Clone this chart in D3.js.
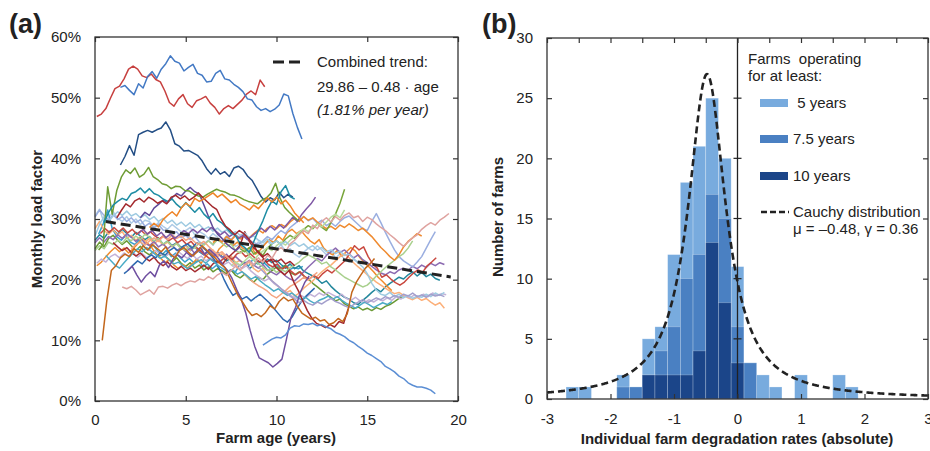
<!DOCTYPE html>
<html>
<head>
<meta charset="utf-8">
<script src="https://cdn.jsdelivr.net/npm/d3@7"></script>
<style>
  body { margin: 0; background: #fff; }
  svg { font-family: "Liberation Sans", Arial, Helvetica, sans-serif; }
</style>
</head>
<body>
<svg id="chart" width="930" height="451"></svg>
<script>
// ---------- panel (a): monthly load factor (%) per farm, one value every STEP years ----------
const STEP = 0.25;

const farmRed = [46.9, 47.3, 48.2, 49.9, 51.5, 51.9, 53.1, 54.7, 55.2, 54.7, 53.6, 53.3, 53.9, 53.0, 52.6, 51.1, 49.2, 48.6, 49.8, 50.5, 49.0, 48.4, 49.5, 49.8, 50.2, 49.1, 48.4, 47.3, 48.2, 48.7, 48.2, 48.9, 49.6, 50.6, 51.1, 50.5, 52.9, 51.8];
const farmBlueTop = [51.7, 52.0, 51.2, 50.5, 52.3, 51.6, 53.5, 54.3, 53.2, 54.7, 55.6, 56.9, 56.0, 55.7, 54.4, 55.0, 55.5, 54.0, 53.7, 52.6, 52.7, 54.0, 54.5, 53.1, 52.9, 52.2, 51.7, 51.0, 49.8, 49.6, 48.5, 47.9, 48.2, 47.7, 48.1, 48.8, 50.6, 50.3, 47.4, 45.1, 43.2];
const farmNavy = [38.9, 40.3, 42.1, 40.5, 43.9, 44.3, 44.6, 44.3, 44.7, 45.0, 46.0, 44.7, 42.4, 42.0, 41.2, 41.3, 40.9, 40.5, 39.6, 38.3, 37.4, 38.3, 37.4, 37.8, 37.0, 38.4, 38.7, 38.2, 37.1, 36.4, 35.1, 33.7, 32.8, 33.5, 33.1, 34.4, 33.5, 34.1, 33.6];
const farmOliveHigh = [24.9, 25.8, 35.3, 30.8, 34.7, 36.9, 38.1, 37.5, 38.4, 36.9, 37.4, 38.5, 37.0, 36.5, 35.8, 35.6, 35.0, 35.4, 35.3, 34.7, 34.6, 34.1, 33.8, 33.6, 34.1, 34.5, 34.9, 34.6, 34.4, 34.0, 33.9, 33.6, 33.2, 32.9, 32.7, 32.5, 33.1, 33.5, 34.3, 35.9, 33.4, 31.9, 31.1, 30.4, 29.7];
const farmTealHigh = [29.4, 31.1, 32.3, 32.9, 33.4, 33.1, 34.2, 34.5, 35.1, 34.3, 35.0, 34.2, 33.9, 33.3, 32.9, 33.3, 32.4, 31.8, 32.7, 31.9, 31.1, 31.9, 30.8, 30.1, 30.9, 29.8, 29.3, 28.5, 27.7, 27.2, 25.9, 25.3, 24.5, 26.3, 28.1, 29.7, 31.6, 33.0, 32.4, 34.5, 35.5, 33.7, 33.3];
const farmDarkRed = [30.2, 31.4, 32.5, 32.0, 33.0, 33.4, 32.8, 33.6, 33.2, 32.6, 33.0, 32.5, 33.6, 33.9, 33.3, 33.8, 33.1, 33.6, 34.3, 33.5, 32.8, 32.1, 31.6, 30.0, 28.8, 28.2, 27.4, 28.1, 27.6, 26.8, 25.9, 24.6, 23.8, 22.9, 23.4, 22.1, 21.4, 20.8, 21.5, 19.6, 18.2, 16.5, 14.9, 13.6, 12.8, 12.5, 12.1, 12.6, 12.2, 13.1, 12.8, 15.2];
const farmOrangeHigh = [28.6, 29.3, 28.7, 29.9, 30.6, 31.2, 30.5, 31.8, 32.6, 32.1, 33.4, 32.9, 33.3, 33.8, 34.3, 33.6, 34.1, 33.4, 32.7, 33.2, 32.4, 32.0, 31.5, 32.3, 31.7, 32.6, 33.5, 32.8, 33.6, 32.5, 33.1, 32.2, 31.0, 30.2, 29.4];
const farmPurpleDip = [21.5, 22.2, 20.8, 19.6, 20.6, 21.3, 20.5, 22.4, 23.1, 22.0, 23.4, 24.1, 23.6, 24.5, 23.8, 24.6, 25.3, 24.2, 25.0, 24.3, 23.5, 22.4, 21.5, 20.2, 18.4, 16.8, 14.6, 11.6, 9.0, 7.1, 6.7, 6.3, 5.6, 6.2, 6.9, 10.2, 13.8, 15.4, 17.8, 19.5, 20.6];
const farmBlueDecline = [9.2, 9.7, 10.2, 10.5, 10.4, 10.9, 12.0, 12.4, 12.3, 12.7, 12.6, 12.8, 12.4, 12.6, 12.2, 11.9, 11.3, 11.0, 10.6, 10.0, 9.6, 9.0, 8.5, 7.9, 7.5, 7.0, 6.5, 5.7, 5.3, 4.8, 4.1, 3.7, 3.0, 2.6, 2.3, 2.3, 2.1, 1.8, 1.2];
const farmBrown = [10.0, 16.5, 21.5, 22.3, 23.6, 24.2, 23.8, 25.1, 24.5, 25.6, 24.9, 25.8, 25.2, 24.6, 25.4, 24.2, 23.6, 24.8, 25.3, 24.5, 23.9, 24.7, 25.6, 24.9, 24.1, 23.5, 22.6, 22.0, 20.4, 18.8, 17.3, 16.2, 15.0, 14.1, 14.4, 13.9, 14.6, 15.7, 15.2, 16.4, 17.1, 16.5, 16.8, 15.6, 14.5, 14.0, 13.5, 13.8, 13.2, 13.4, 12.6, 12.9, 13.6, 13.1, 14.4, 17.9, 19.6, 20.8, 21.9, 22.6, 23.5];
const farmPink = [18.8, 18.5, 18.9, 18.3, 17.5, 17.9, 18.3, 17.6, 18.8, 18.9, 18.6, 19.1, 19.4, 19.0, 19.5, 19.8, 19.6, 20.1, 19.9, 20.5, 20.1, 20.8, 21.2, 20.7, 21.5, 22.2, 21.6, 22.5, 23.1, 22.4, 23.6, 22.8, 24.0, 23.5, 24.8, 25.3, 24.6, 25.9, 26.5, 27.4, 28.1, 27.6, 29.0, 28.4, 29.6, 30.2, 29.5, 30.4, 29.8, 30.6, 31.0, 30.2, 30.5, 29.6, 30.3, 29.9, 29.2, 28.6, 28.1, 27.4, 26.8, 26.1, 25.5, 26.2, 26.9, 27.4, 28.3, 28.9, 29.4, 29.0, 29.8, 30.3, 30.9];

const farmLightBlue = [30.5, 31.6, 29.4, 30.2, 31.2, 30.1, 29.6, 30.4, 29.3, 30.0, 29.1, 29.8, 29.6, 28.7, 29.4, 28.8, 28.3, 29.1, 28.5, 27.9, 28.1, 28.6, 27.4, 27.9, 27.5, 26.8, 27.6, 27.0, 26.3, 26.9, 26.1, 25.5, 25.9, 25.2, 24.6, 25.3, 26.2, 25.7, 26.4, 25.5, 25.0, 25.8, 24.6, 25.1, 24.2, 23.7, 24.5, 25.2, 24.8, 25.6, 24.9, 24.1, 24.7, 23.6, 24.2, 23.4, 22.9, 23.3, 22.8];
const farmCyan = [27.5, 29.2, 31.5, 28.4, 27.1, 26.5, 27.3, 26.2, 25.8, 26.6, 25.4, 24.9, 25.7, 24.8, 24.1, 24.9, 23.8, 24.4, 23.6, 22.9, 23.5, 22.8, 23.2, 22.1, 22.6, 21.8, 22.4, 21.3, 20.9, 21.6, 21.1, 22.3, 22.9, 22.2, 23.4, 22.6, 23.1, 22.4, 21.7, 22.5, 21.9, 22.3, 21.6, 22.0, 21.8, 22.2];
const farmTeal = [26.5, 27.4, 26.8, 27.9, 28.2, 27.5, 28.3, 27.6, 27.0, 27.8, 27.2, 26.6, 27.1, 26.3, 26.9, 25.8, 26.4, 25.6, 26.1, 25.3, 25.7, 24.8, 25.4, 24.6, 24.1, 24.8, 23.9, 24.5, 23.8, 23.1, 23.6, 22.7, 22.3, 22.9, 21.8, 22.4, 23.1, 22.6, 23.4, 22.8, 23.2, 22.5, 21.9, 22.6, 21.8, 22.3, 21.4, 21.0, 20.6, 20.1, 19.4, 19.8, 18.9, 18.2, 17.6, 17.1, 16.8, 16.2, 15.9, 16.6, 17.2, 17.9, 18.5, 18.0, 18.8, 19.4, 19.9, 20.4, 20.1, 20.8, 21.3, 20.6, 21.2, 20.5, 20.9, 20.2, 19.9];
const farmOliveLow = [25.1, 26.2, 25.4, 26.8, 27.3, 26.5, 25.8, 26.4, 25.6, 24.8, 25.5, 24.6, 24.1, 24.7, 23.8, 24.3, 23.5, 22.9, 23.6, 22.7, 22.2, 22.8, 21.9, 22.4, 21.6, 22.1, 21.3, 21.8, 21.5, 20.9, 21.6, 20.7, 20.3, 20.9, 20.1, 19.6, 20.4, 20.0, 20.9, 21.5, 22.1, 21.6, 22.4, 21.2, 20.8, 21.3, 20.6, 20.1, 19.4, 18.8, 18.2, 17.6, 17.1, 16.5, 16.8, 16.0, 15.6, 15.2, 15.5, 15.0, 15.3, 14.9, 15.4, 15.1, 15.6, 15.9, 16.4, 16.9, 17.2];
const farmOrange = [22.3, 22.9, 23.8, 24.6, 25.3, 24.6, 25.2, 24.4, 25.1, 25.9, 26.8, 26.1, 25.4, 24.3, 23.6, 22.8, 23.3, 22.4, 21.8, 22.5, 21.9, 22.6, 23.4, 22.7, 23.9, 24.6, 23.8, 25.1, 25.8, 26.4, 25.6, 26.2, 25.3, 24.8, 25.5, 24.2, 24.9, 25.8, 26.6, 26.1, 27.2, 26.5, 27.8, 28.3, 27.6, 28.1, 27.2, 26.4, 25.9, 26.6, 25.2, 24.5, 24.1, 24.8, 23.9, 24.6, 25.3, 24.7, 23.6, 22.8, 22.1, 21.3, 20.4, 19.7, 18.9, 18.2];
const farmLightOrange = [28.4, 29.6, 28.1, 27.5, 28.2, 27.4, 27.9, 26.8, 27.3, 26.5, 27.1, 26.2, 26.8, 25.9, 26.5, 25.7, 26.2, 25.4, 26.0, 25.1, 25.6, 24.8, 25.5, 24.7, 25.2, 24.3, 24.9, 23.8, 24.3, 23.5, 23.9, 22.8, 23.2, 22.4, 22.9, 21.8, 21.3, 21.9, 20.6, 19.8, 19.1, 18.5, 17.8, 18.2, 17.3, 17.8, 18.6, 19.2, 19.8, 20.6, 21.3, 21.9, 22.4, 23.1, 23.8, 24.3, 23.6, 22.8, 22.1, 21.5, 20.8, 20.2, 19.6, 19.1, 18.6, 18.1, 17.7, 17.9, 17.4, 17.0, 16.7, 17.1, 16.6, 16.9, 16.3, 15.8, 16.2, 15.3];
const farmLavender = [22.7, 23.4, 22.9, 23.8, 24.2, 23.6, 24.4, 23.9, 24.5, 23.7, 24.3, 23.6, 24.1, 24.8, 24.2, 23.7, 24.4, 23.8, 24.6, 24.0, 23.5, 24.2, 23.4, 23.9, 23.1, 23.6, 22.8, 23.3, 22.5, 22.9, 22.2, 22.6, 21.8, 22.3, 21.4, 20.8, 20.3, 19.8, 20.2, 19.4, 18.9, 18.3, 17.8, 17.3, 16.9, 17.4, 17.0, 17.6, 17.2, 17.8, 17.4, 17.9, 17.5, 17.1, 17.6, 16.9, 16.6, 17.1, 16.5, 16.2, 16.7, 16.3, 16.8, 16.5, 17.0, 16.6, 17.2, 16.8, 17.3, 17.0, 17.5, 17.1, 17.6, 17.2, 17.8, 17.4, 17.7, 17.5];
const farmPurple = [26.1, 26.9, 26.2, 27.1, 26.6, 27.4, 26.8, 27.5, 27.0, 26.3, 26.9, 26.0, 25.6, 26.3, 25.4, 25.9, 25.1, 25.7, 24.8, 25.3, 24.6, 25.2, 24.3, 24.8, 24.1, 24.7, 23.9, 24.4, 23.6, 24.2, 23.3, 23.8, 23.1, 22.6, 23.2, 22.4, 21.9, 22.5, 21.6, 21.2, 20.8, 21.4, 20.6, 20.1, 19.8, 20.5, 21.3, 22.1, 22.8, 23.5, 23.1, 24.0, 24.6, 25.2, 24.5, 24.9, 24.2, 23.6, 24.1, 23.3, 22.8, 22.2, 21.6, 21.1, 20.8, 21.3, 21.0, 21.6, 21.9, 21.5, 22.2, 21.8, 22.4, 22.0, 22.7, 22.3, 22.8, 22.5];
const farmRedMid = [27.6, 28.4, 27.8, 28.6, 27.9, 28.5, 27.7, 28.3, 27.5, 28.1, 27.4, 27.9, 27.2, 26.7, 27.3, 26.4, 26.9, 26.1, 26.6, 25.8, 26.3, 25.4, 24.8, 24.1, 23.5, 23.1, 22.8, 23.4, 23.9, 23.3, 24.2, 24.6, 23.8, 24.3, 23.6, 22.9, 23.4, 22.5, 22.1, 22.6, 21.7, 22.2, 21.4, 20.8, 21.3, 20.5, 20.1, 20.7, 20.2, 21.0, 21.6, 21.1, 21.8, 22.5, 23.2, 24.4, 25.6, 24.9, 25.4, 23.8, 22.6, 21.9, 20.4, 20.8, 20.1, 19.5, 19.1, 19.6, 20.4, 21.1, 21.6, 21.2, 22.3, 22.9, 23.6];
const farmPeriwinkle = [30.3, 31.5, 30.6, 29.8, 30.7, 29.9, 30.4, 29.6, 30.2, 29.4, 29.9, 28.8, 29.3, 28.5, 29.1, 28.2, 28.0, 27.4, 27.9, 26.9, 27.3, 26.6, 27.1, 26.2, 25.9, 26.5, 25.7, 26.8, 26.3, 27.2, 26.6, 27.4, 26.9, 27.3, 26.5, 26.1, 25.8, 26.4, 27.1, 26.6, 27.4, 28.1, 27.6, 28.6, 29.2, 29.8, 30.4, 29.7, 30.1, 29.3, 29.8, 28.9, 29.4, 28.8, 29.6, 30.2, 30.5, 29.8, 29.1, 28.4, 28.1, 29.6, 30.9, 29.4, 27.8, 26.3, 24.9, 23.8, 23.1, 22.6, 22.1, 22.9, 23.8, 25.2, 26.6, 27.9];
const farmLightGreen = [24.8, 25.6, 25.1, 26.2, 25.8, 26.5, 26.0, 26.9, 26.4, 27.2, 26.6, 27.5, 27.0, 26.4, 26.8, 25.9, 26.3, 25.5, 25.9, 25.1, 24.9, 25.6, 25.2, 26.1, 25.7, 26.4, 25.8, 26.6, 26.0, 25.4, 25.9, 24.8, 24.4, 24.9, 24.0, 23.2, 22.6, 22.1, 21.5, 21.9, 21.2, 21.7, 21.3, 22.0, 22.4, 22.9, 23.6, 24.1, 23.7, 23.2, 22.6, 22.9, 22.1, 21.6, 21.0, 20.4, 20.0, 19.6, 19.2, 18.8, 19.1, 19.8, 20.6, 21.3, 22.0, 22.6, 23.2, 23.8, 24.3, 25.2, 26.4];
const farmOrange2 = [26.1, 26.8, 26.2, 27.1, 26.5, 27.3, 26.7, 27.4, 26.9, 27.6, 28.2, 27.7, 28.5, 28.9, 28.4, 29.1, 28.7, 29.5, 30.1, 29.6, 30.4, 29.8, 30.2, 29.5, 28.9, 28.4, 28.8, 28.3, 29.0, 28.6, 29.2, 28.7, 28.1, 28.5, 27.8, 27.1, 26.2, 25.3, 24.6, 23.8, 23.2, 24.1, 25.4, 26.3, 26.9, 27.6, 27.2];
const farmOlive2 = [25.1, 24.6, 25.3, 24.2, 24.8, 24.0, 25.2, 25.9, 26.4, 25.8, 26.7, 27.3, 26.8, 27.5, 28.3, 28.9, 28.4, 29.2, 28.6, 28.1, 29.4, 30.8, 32.6, 34.9];
const farmPaleGreen = [22.3, 22.9, 22.4, 23.1, 23.8, 23.2, 24.1, 24.7, 25.3, 24.8, 25.6, 26.2, 25.7, 26.5, 27.1, 27.8, 28.4, 27.9, 28.6, 29.2, 28.7, 29.5, 30.3, 30.8, 30.2, 31.5];
const farmMaroon = [26.1, 25.4, 24.8, 25.3, 24.5, 23.9, 24.4, 23.6, 23.1, 23.7, 22.8, 22.3, 22.9, 22.1, 21.6, 22.2, 21.5, 21.9, 21.3, 21.8, 22.4, 21.7, 22.6, 23.1, 22.5, 23.4, 24.1, 24.8, 25.7, 27.9, 26.3, 25.2, 24.6, 23.8, 24.3, 23.5, 22.9, 23.4, 22.6, 23.0, 22.3];
const farmBlueMid = [21.0, 21.6, 22.4, 23.1, 22.6, 23.5, 24.1, 23.6, 24.5, 24.0, 24.8, 25.3, 24.7, 25.5, 25.9, 25.2, 26.1, 25.6, 24.9, 24.1, 23.2, 21.8, 20.1, 18.6, 17.4, 17.9, 16.8, 17.2, 16.5, 17.1, 17.6, 16.9, 16.2, 15.3, 14.4, 13.5, 13.0, 13.8, 15.1, 16.3, 17.2, 17.9, 18.6];
const farmSkyBlue = [27.2, 29.1, 30.4, 29.6, 30.5, 31.2, 30.6, 31.3, 30.5, 30.9, 30.2, 30.7, 29.9, 30.4, 29.6, 30.1, 29.3, 29.8, 29.0, 29.5, 28.8, 29.4, 28.6, 29.1, 28.3, 28.7, 28.0, 28.5, 27.8, 28.2, 27.5, 27.9, 27.3, 27.7, 26.9, 27.2, 26.5, 26.1, 26.7, 25.9, 26.4, 25.8, 26.3, 25.6, 26.1, 25.5, 25.9, 25.2, 25.6, 24.9, 25.3, 24.6, 24.9, 24.3, 24.7, 24.0, 24.2, 23.5, 22.8, 22.1, 21.0, 19.4, 18.3, 17.6, 17.4, 17.9, 17.2, 17.6, 17.0, 17.4, 16.9, 17.3, 17.1, 17.6, 17.2, 17.8, 17.4, 17.9];
const farmSalmon = [25.1, 25.8, 26.2, 25.7, 26.4, 26.9, 26.3, 27.1, 26.6, 27.4, 26.8, 27.2, 26.5, 26.9, 26.2, 25.8, 26.3, 25.5, 24.8, 24.2, 24.6, 23.8, 23.1, 22.4, 21.6, 20.9, 20.2, 19.5, 19.0, 18.6, 18.1, 17.4, 17.0, 17.6, 18.2, 18.9, 19.3, 19.8, 20.4, 19.9, 20.6, 21.2];
const farmCyan2 = [24.0, 23.2, 22.4, 21.9, 22.8, 23.6, 24.4, 25.1, 24.6, 25.3, 24.7, 24.1, 23.5, 23.9, 23.2, 22.6, 22.9, 22.3, 21.8, 22.4, 22.9, 23.3, 22.7, 23.4, 22.8, 22.2, 21.7, 21.2, 21.6, 20.9, 21.3, 20.7, 20.1, 20.5, 19.8, 19.2, 18.7, 18.1, 18.5, 17.9, 17.4, 17.8, 17.2, 16.7, 17.1, 16.5, 16.1, 16.6, 16.9, 17.3, 16.8, 17.2, 16.6, 16.1, 15.7, 15.3, 15.8, 16.3, 15.9, 15.4, 15.8, 16.2, 15.9, 16.4];
const farmGreyPurple = [22.1, 21.4, 20.6, 19.8, 19.2, 18.5, 17.9, 17.3, 16.8, 16.2, 16.6, 16.1, 15.8, 16.3, 16.0, 16.5, 16.9, 16.4, 16.1, 15.7, 15.4, 15.9, 16.3, 16.7, 16.2, 16.6, 17.0, 16.7, 17.2, 16.9, 17.4, 17.1, 17.6, 17.3, 17.8, 17.2, 17.5, 17.1, 17.6, 17.3, 17.5, 17.2];
const farmViolet = [27.6, 28.3, 27.5, 28.1, 27.2, 27.8, 26.9, 27.5, 26.8, 27.4, 28.1, 27.6, 28.3, 27.7, 28.4, 27.9, 28.6, 28.0, 27.4, 27.9, 27.1, 27.6, 26.8, 27.3, 26.6, 27.2, 27.8, 28.5, 27.9, 28.8, 28.2, 29.1, 28.5, 29.4, 30.3, 29.6, 30.8, 31.7, 32.5, 33.6];
const farmIndigo = [30.2, 31.1, 30.6, 31.8, 32.4, 33.1, 32.7, 33.5, 34.2, 33.8, 34.6, 35.2, 34.5, 34.1, 32.3, 30.4, 28.6, 27.5, 26.8, 25.9, 25.3, 24.8, 25.4];

// first age (years) of each farm record, in drawing order
const farmStartAge = [0.0, 0.2, 0.0, 0.0, 0.1, 0.0, 0.1, 0.0, 0.3, 0.0, 0.0, 6.5, 8.0, 7.5, 1.0, 1.6, 0.0, 2.0, 0.6, 9.0, 2.4, 2.5,
                      0.1, 1.4, 1.4, 0.2, 0.5, 1.2, 3.0, 1.8, 9.25, 0.4, 1.5];
const farmSeries = [farmLightBlue, farmCyan, farmTeal, farmOliveLow, farmOrange, farmLightOrange, farmLavender, farmPurple,
                    farmRedMid, farmPeriwinkle, farmLightGreen, farmOrange2, farmOlive2, farmPaleGreen, farmMaroon, farmBlueMid,
                    farmSkyBlue, farmSalmon, farmCyan2, farmGreyPurple, farmViolet, farmIndigo,
                    farmRed, farmBlueTop, farmNavy, farmOliveHigh, farmTealHigh, farmDarkRed, farmOrangeHigh, farmPurpleDip,
                    farmBlueDecline, farmBrown, farmPink];
const farmColors = ["#aecbe6", "#3aa1cf", "#23879c", "#6a9934", "#f08b2c", "#fcb07a", "#c3b2d8", "#8c6bb1",
                    "#c9483f", "#9aaee0", "#a9d08e", "#ef8a2f", "#78a53a", "#b9da9c", "#a52a2e", "#2e69b0",
                    "#9ecae1", "#f4a582", "#4bacc6", "#a39fcc", "#7e57a4", "#5f4a9a",
                    "#c7403f", "#4379c4", "#234e85", "#6e9c34", "#1d8ca3", "#a3282c", "#ee8427", "#6f4fa0",
                    "#5b8ed4", "#c3671c", "#dfa3a0"];

// combined trend: 29.86 - 0.48 * age
const trendIntercept = 29.86;
const trendSlope = -0.48;
const trendAges = [0.6, 19.6];

// ---------- panel (b): histogram of degradation rates, bins of width 0.2 ----------
const binCenters = [-2.6, -2.4, -2.2, -2.0, -1.8, -1.6, -1.4, -1.2, -1.0, -0.8, -0.6, -0.4, -0.2, 0.0, 0.2, 0.4, 0.6, 0.8, 1.0, 1.2, 1.4, 1.6, 1.8];
const farms5yr   = [1, 1, 0, 0, 2, 1, 5, 6, 12, 18, 21, 25, 20, 11, 3, 2, 1, 0, 2, 0, 0, 2, 1];
const farms7_5yr = [0, 0, 0, 0, 1, 1, 2, 4, 6, 10, 12, 17, 15, 6, 3, 0, 0, 0, 0, 0, 0, 0, 0];
const farms10yr  = [0, 0, 0, 0, 0, 0, 2, 2, 2, 2, 4, 13, 8, 3, 0, 0, 0, 0, 0, 0, 0, 0, 0];
const binWidth = 0.2;
const cauchyMu = -0.48, cauchyGamma = 0.36, cauchyPeak = 27;

// ---------- drawing ----------
const FONT = '"Liberation Sans", Arial, Helvetica, sans-serif';
const INK = "#222";
const svg = d3.select("#chart");

function styleAxis(g, labels) {
  g.attr("font-family", FONT).attr("font-size", 15);
  g.select(".domain").remove();
  g.selectAll(".tick line").attr("stroke", "#333").attr("stroke-width", 1.2);
  g.selectAll(".tick text").attr("fill", INK);
  if (!labels) g.selectAll(".tick text").remove();
}

// panel (a)
const xA = d3.scaleLinear().domain([0, 20]).range([95, 458]);
const yA = d3.scaleLinear().domain([0, 60]).range([401, 37]);
const gA = svg.append("g");

const farmLine = d3.line().x(d => xA(d[0])).y(d => yA(d[1]));
farmSeries.forEach((vals, k) => {
  const pts = vals.map((v, i) => [farmStartAge[k] + i * STEP, v]);
  gA.append("path")
    .attr("d", farmLine(pts))
    .attr("fill", "none")
    .attr("stroke", farmColors[k])
    .attr("stroke-width", 1.5)
    .attr("stroke-linejoin", "round");
});

gA.append("line")
  .attr("x1", xA(trendAges[0])).attr("y1", yA(trendIntercept + trendSlope * trendAges[0]))
  .attr("x2", xA(trendAges[1])).attr("y2", yA(trendIntercept + trendSlope * trendAges[1]))
  .attr("stroke", INK).attr("stroke-width", 3).attr("stroke-dasharray", "10,5");

const ageTicks = [0, 5, 10, 15, 20];
const lfTicks = [0, 10, 20, 30, 40, 50, 60];
gA.append("g").attr("transform", "translate(0,401)")
  .call(d3.axisBottom(xA).tickValues(ageTicks).tickSizeInner(-5).tickSizeOuter(0).tickPadding(13))
  .call(g => styleAxis(g, true));
gA.append("g").attr("transform", "translate(0,37)")
  .call(d3.axisTop(xA).tickValues(ageTicks).tickSizeInner(-5).tickSizeOuter(0))
  .call(g => styleAxis(g, false));
gA.append("g").attr("transform", "translate(95,0)")
  .call(d3.axisLeft(yA).tickValues(lfTicks).tickFormat(d => d + "%").tickSizeInner(-5).tickSizeOuter(0).tickPadding(14))
  .call(g => styleAxis(g, true));
gA.append("g").attr("transform", "translate(458,0)")
  .call(d3.axisRight(yA).tickValues(lfTicks).tickSizeInner(-5).tickSizeOuter(0))
  .call(g => styleAxis(g, false));
gA.append("rect").attr("x", 95).attr("y", 37).attr("width", 363).attr("height", 364)
  .attr("fill", "none").attr("stroke", "#333").attr("stroke-width", 1.3);

// legend (a)
gA.append("line").attr("x1", 273).attr("x2", 301).attr("y1", 62).attr("y2", 62)
  .attr("stroke", INK).attr("stroke-width", 3).attr("stroke-dasharray", "11,5");
const legA = gA.append("g").attr("font-family", FONT).attr("font-size", 15).attr("fill", INK);
legA.append("text").attr("x", 317).attr("y", 67).text("Combined trend:");
legA.append("text").attr("x", 317).attr("y", 92).text("29.86 \u2013 0.48 \u00b7 age");
legA.append("text").attr("x", 317).attr("y", 115).attr("font-style", "italic").text("(1.81% per year)");

svg.append("text").attr("x", 276).attr("y", 443).attr("text-anchor", "middle")
  .attr("font-family", FONT).attr("font-size", 15).attr("font-weight", "bold").attr("fill", INK)
  .text("Farm age (years)");
svg.append("text").attr("transform", "translate(42,219) rotate(-90)").attr("text-anchor", "middle")
  .attr("font-family", FONT).attr("font-size", 15).attr("font-weight", "bold").attr("fill", INK)
  .text("Monthly load factor");
svg.append("text").attr("x", 9).attr("y", 33)
  .attr("font-family", FONT).attr("font-size", 27).attr("font-weight", "bold").attr("fill", INK).text("(a)");

// panel (b)
const xB = d3.scaleLinear().domain([-3, 3]).range([547, 928]);
const yB = d3.scaleLinear().domain([0, 30]).range([399, 38]);
const gB = svg.append("g");

const layers = [
  { counts: farms5yr, color: "#78abde", label: " 5 years" },
  { counts: farms7_5yr, color: "#4a80c2", label: "7.5 years" },
  { counts: farms10yr, color: "#1b4589", label: "10 years" }
];
layers.forEach(layer => {
  const bins = binCenters.map((c, i) => ({ c, n: layer.counts[i] })).filter(d => d.n > 0);
  gB.append("g").selectAll("rect").data(bins).join("rect")
    .attr("x", d => xB(d.c - binWidth / 2))
    .attr("width", d => xB(d.c + binWidth / 2) - xB(d.c - binWidth / 2))
    .attr("y", d => yB(d.n))
    .attr("height", d => yB(0) - yB(d.n))
    .attr("fill", layer.color)
    .attr("stroke", "rgba(255,255,255,0.35)")
    .attr("stroke-width", 0.7);
});

// zero line with small cross ticks
gB.append("line").attr("x1", xB(0)).attr("x2", xB(0)).attr("y1", yB(30)).attr("y2", yB(0))
  .attr("stroke", INK).attr("stroke-width", 1.3);
gB.append("g").selectAll("line").data([5, 10, 15, 20, 25]).join("line")
  .attr("x1", xB(0) - 4).attr("x2", xB(0) + 4).attr("y1", d => yB(d)).attr("y2", d => yB(d))
  .attr("stroke", INK).attr("stroke-width", 1.2);

// Cauchy curve
const cauchyX = d3.range(-3, 3.0001, 0.01);
const cauchyLine = d3.line()
  .x(x => xB(x))
  .y(x => yB(cauchyPeak / (1 + Math.pow((x - cauchyMu) / cauchyGamma, 2))));
gB.append("path").attr("d", cauchyLine(cauchyX)).attr("fill", "none")
  .attr("stroke", INK).attr("stroke-width", 2.6).attr("stroke-dasharray", "7,4");

const countTicks = [0, 5, 10, 15, 20, 25, 30];
gB.append("g").attr("transform", "translate(0,399)")
  .call(d3.axisBottom(xB).tickValues([-3, -2, -1, 0, 1, 2, 3]).tickFormat(d => String(d)).tickSizeInner(-5).tickSizeOuter(0).tickPadding(14))
  .call(g => styleAxis(g, true));
gB.append("g").attr("transform", "translate(0,38)")
  .call(d3.axisTop(xB).tickValues(d3.range(-3, 3.01, 0.5)).tickSizeInner(-5).tickSizeOuter(0))
  .call(g => styleAxis(g, false));
gB.append("g").attr("transform", "translate(547,0)")
  .call(d3.axisLeft(yB).tickValues(countTicks).tickSizeInner(-5).tickSizeOuter(0).tickPadding(14))
  .call(g => styleAxis(g, true));
gB.append("g").attr("transform", "translate(928,0)")
  .call(d3.axisRight(yB).tickValues(countTicks).tickSizeInner(-5).tickSizeOuter(0))
  .call(g => styleAxis(g, false));
gB.append("rect").attr("x", 547).attr("y", 38).attr("width", 381).attr("height", 361)
  .attr("fill", "none").attr("stroke", "#333").attr("stroke-width", 1.3);

// legend (b)
const legB = gB.append("g").attr("font-family", FONT).attr("font-size", 15).attr("fill", INK);
legB.append("text").attr("x", 748).attr("y", 64).attr("xml:space", "preserve").text("Farms  operating");
legB.append("text").attr("x", 748).attr("y", 81).text("for at least:");
const legY = [103, 139, 176];
layers.forEach((layer, i) => {
  legB.append("rect").attr("x", 760).attr("y", legY[i] - 4).attr("width", 28).attr("height", 8).attr("fill", layer.color);
  legB.append("text").attr("x", 793).attr("y", legY[i] + 5).attr("xml:space", "preserve").text(layer.label);
});
legB.append("line").attr("x1", 761).attr("x2", 789).attr("y1", 212).attr("y2", 212)
  .attr("stroke", INK).attr("stroke-width", 2.6).attr("stroke-dasharray", "6,3");
legB.append("text").attr("x", 793).attr("y", 217).text("Cauchy distribution");
legB.append("text").attr("x", 793).attr("y", 234).text("\u03bc = \u20130.48, \u03b3 = 0.36");

svg.append("text").attr("x", 737).attr("y", 444).attr("text-anchor", "middle")
  .attr("font-family", FONT).attr("font-size", 15).attr("font-weight", "bold").attr("fill", INK)
  .text("Individual farm degradation rates (absolute)");
svg.append("text").attr("transform", "translate(503,217) rotate(-90)").attr("text-anchor", "middle")
  .attr("font-family", FONT).attr("font-size", 15).attr("font-weight", "bold").attr("fill", INK)
  .text("Number of farms");
svg.append("text").attr("x", 482).attr("y", 33)
  .attr("font-family", FONT).attr("font-size", 27).attr("font-weight", "bold").attr("fill", INK).text("(b)");
</script>
</body>
</html>
